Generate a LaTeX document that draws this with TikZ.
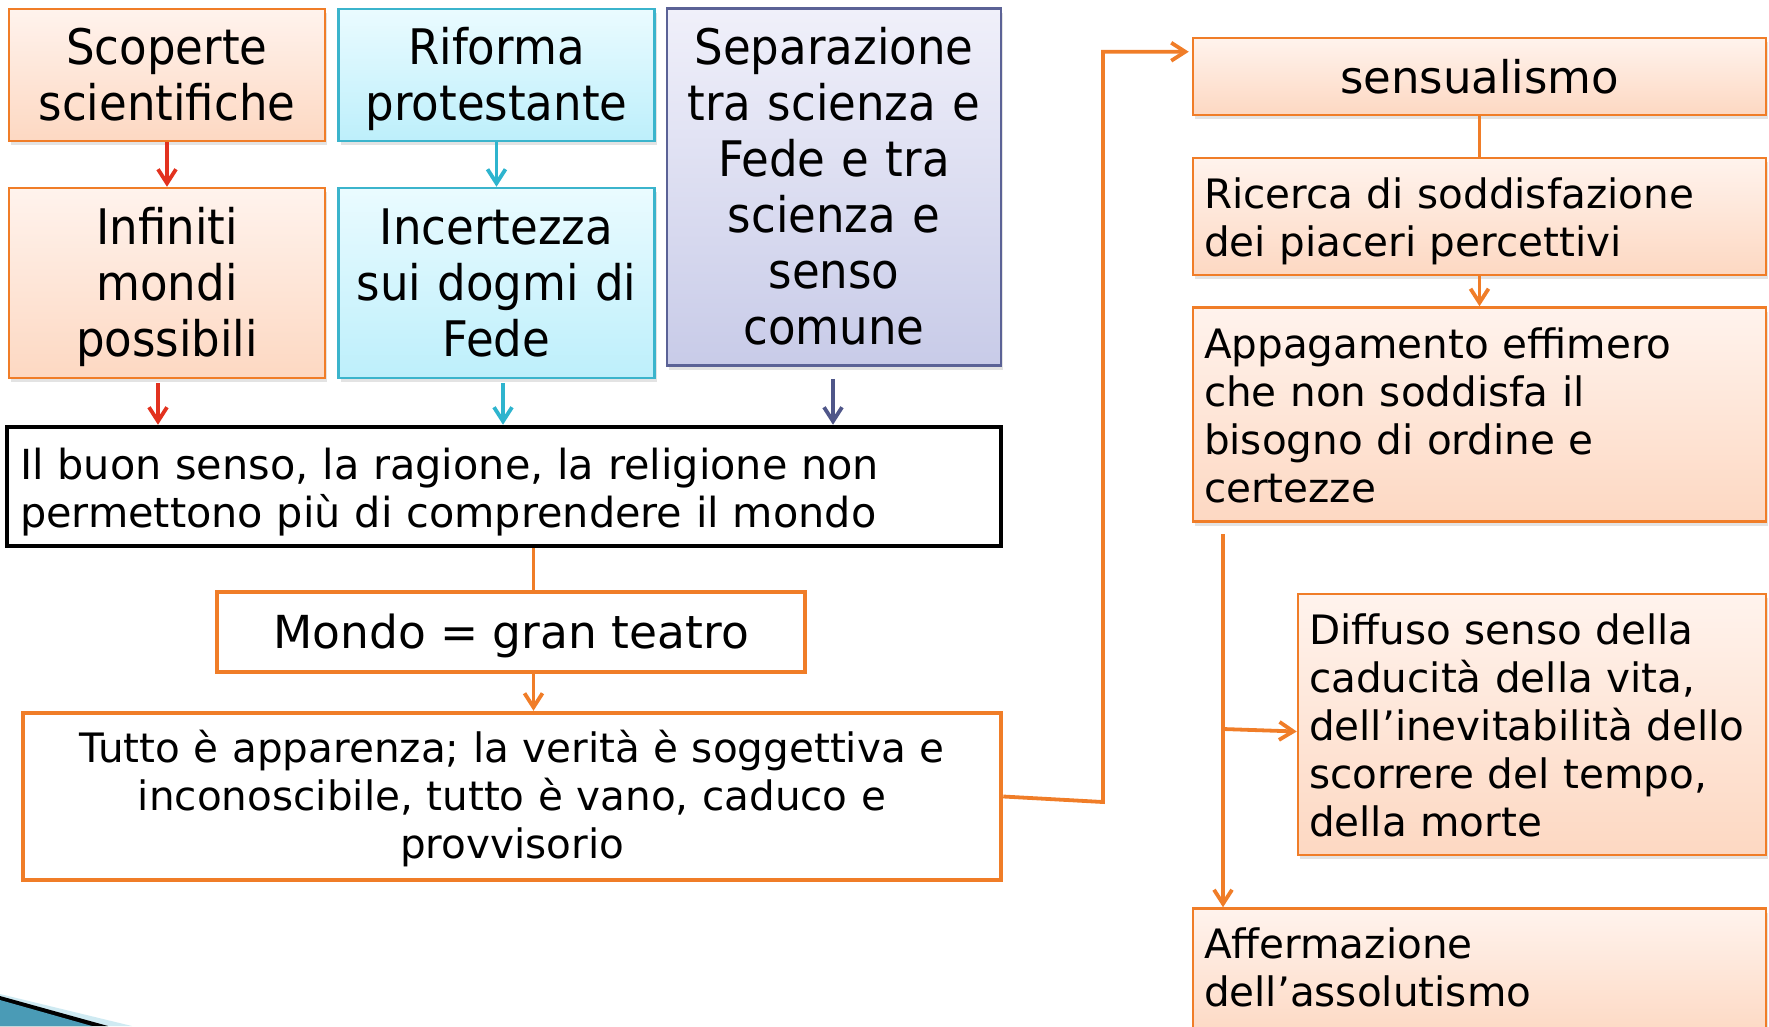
\documentclass[tikz,border=0pt]{standalone}
\usepackage{fontspec}
\setmainfont{DejaVu Sans}
\newfontfamily\condfont{DejaVu Sans}[FakeStretch=0.92]
\usetikzlibrary{arrows.meta,shadows,calc}
\definecolor{orB}{HTML}{F07D28}
\definecolor{orT}{HTML}{FFF3ED}
\definecolor{orBot}{HTML}{FDD8C2}
\definecolor{cyB}{HTML}{3BB4CC}
\definecolor{cyT}{HTML}{EAFBFF}
\definecolor{cyBot}{HTML}{BDEFFB}
\definecolor{puB}{HTML}{5B6296}
\definecolor{puT}{HTML}{F0F0FA}
\definecolor{puBot}{HTML}{C8CBE8}
\definecolor{redA}{HTML}{E2321F}
\definecolor{cyA}{HTML}{2EB4CE}
\definecolor{puA}{HTML}{4F5689}
\definecolor{decoBlue}{HTML}{4A9BB6}
\definecolor{decoLight}{HTML}{CFEAF2}
% struts fixing baseline positions inside the boxes
\newcommand\hiS[1]{\rule{0pt}{#1}}
\newcommand\loS[1]{\rule[-#1]{0pt}{#1}}
\begin{document}
\begin{tikzpicture}[x=1pt,y=-1pt,
  shbox/.style={draw, rectangle, line width=2.5pt,
    drop shadow={opacity=0.22, shadow xshift=2pt, shadow yshift=-4pt}},
  orangebox/.style={draw=orB, top color=orT, bottom color=orBot},
  cyanbox/.style={draw=cyB, top color=cyT, bottom color=cyBot},
  purplebox/.style={draw=puB, top color=puT, bottom color=puBot},
  topbox/.style={shbox, font=\condfont\fontsize{49}{56}\selectfont, align=center,
    inner xsep=6pt, inner ysep=0pt},
  rbox/.style={shbox, orangebox, font=\fontsize{40.5}{48}\selectfont, align=left,
    inner xsep=11pt, inner ysep=0pt},
  plainbox/.style={draw, rectangle, line width=4.5pt, fill=white, inner ysep=0pt},
  conn/.style={line width=3.8pt},
  arr/.style={line width=3.8pt, -{Straight Barb[length=14pt,width=18pt]}}
]
\useasboundingbox (0,0) rectangle (1769,1026);

% bottom-left decoration
\fill[decoLight] (0,994) -- (132,1026) -- (0,1026) -- cycle;
\fill[black] (0,996) -- (108,1026) -- (0,1026) -- cycle;
\fill[decoBlue] (0,1000) -- (92,1026) -- (0,1026) -- cycle;

% left column boxes
\node[topbox, orangebox, minimum width=316, minimum height=132, text width=300] (A) at (167,75)
  {\hiS{47pt}Scoperte\\scientifiche\loS{13pt}};
\node[topbox, cyanbox, minimum width=316, minimum height=132, text width=300] (B) at (496.5,75)
  {\hiS{47pt}Riforma\\protestante\loS{13pt}};
\node[topbox, purplebox, minimum width=334, minimum height=357, text width=320] (C) at (834,187)
  {\hiS{47pt}Separazione\\tra scienza e\\Fede e tra\\scienza e\\senso\\comune\loS{13pt}};
\node[topbox, orangebox, minimum width=316, minimum height=190, text width=300] (D) at (167,283)
  {\hiS{47pt}Infiniti\\mondi\\possibili\loS{13pt}};
\node[topbox, cyanbox, minimum width=316, minimum height=190, text width=300] (E) at (496.5,283)
  {\hiS{47pt}Incertezza\\sui dogmi di\\Fede\loS{13pt}};

\node[plainbox, draw=black, minimum width=994, minimum height=119, text width=968,
  align=left, inner xsep=12pt, font=\fontsize{41.4}{48}\selectfont] (F) at (504,486.5)
  {\hiS{45pt}Il buon senso, la ragione, la religione non\\permettono più di comprendere il mondo\loS{12pt}};
\node[plainbox, draw=orB, minimum width=588, minimum height=80, align=center,
  font=\fontsize{45.5}{52}\selectfont] (G) at (511,632)
  {\rule[-11pt]{0pt}{54pt}Mondo = gran teatro};
\node[plainbox, draw=orB, minimum width=978, minimum height=167, text width=950,
  align=center, font=\fontsize{40.5}{48}\selectfont] (H) at (512,796.5)
  {\hiS{40pt}Tutto è apparenza; la verità è soggettiva e\\inconoscibile, tutto è vano, caduco e\\provvisorio\loS{12pt}};

% right column boxes
\node[shbox, orangebox, minimum width=573, minimum height=77, align=center, inner ysep=0pt,
  font=\fontsize{45}{52}\selectfont] (I) at (1479.5,76.5) {\rule[-7pt]{0pt}{47pt}sensualismo};
\node[rbox, minimum width=573, minimum height=117, text width=551] (J) at (1479.5,216.5)
  {\hiS{42pt}Ricerca di soddisfazione\\dei piaceri percettivi\loS{11pt}};
\node[rbox, minimum width=573, minimum height=214, text width=551] (K) at (1479.5,414.5)
  {\hiS{42pt}Appagamento effimero\\che non soddisfa il\\bisogno di ordine e\\certezze\loS{11pt}};
\node[rbox, minimum width=468, minimum height=261, text width=446] (L) at (1532,724.5)
  {\hiS{42pt}Diffuso senso della\\caducità della vita,\\dell’inevitabilità dello\\scorrere del tempo,\\della morte\loS{11pt}};
\node[rbox, minimum width=573, minimum height=132, text width=551] (M) at (1479.5,974.5)
  {\hiS{42pt}Affermazione\\dell’assolutismo\loS{27pt}};

% connectors, left
\draw[arr, redA] (A.south) -- (D.north);
\draw[arr, cyA] (B.south) -- (E.north);
\draw[arr, redA] ([xshift=-9pt,yshift=-4pt]D.south) -- ([xshift=-9pt]D.south |- F.north);
\draw[arr, cyA] ([xshift=6.5pt,yshift=-4pt]E.south) -- ([xshift=6.5pt]E.south |- F.north);
\draw[arr, puA] ([xshift=-1pt,yshift=-12pt]C.south) -- ([xshift=-1pt]C.south |- F.north);

\coordinate (fg) at (533.5,0);
\draw[conn, orB] (fg |- F.south) -- (fg |- G.north);
\draw[arr, orB] (fg |- G.south) -- (fg |- H.north);

% connector H -> sensualismo
\coordinate (hk) at (1103,802);
\draw[arr, orB, line join=miter] (H.east) -- (hk) |- ([xshift=-3pt,yshift=-15pt]I.north west);

% connectors, right
\draw[conn, orB] (I.south) -- (J.north);
\draw[arr, orB] (J.south) -- (K.north);
\coordinate (kx) at (1223,534);
\draw[arr, orB] (kx) -- (kx |- M.north);
\coordinate (br) at (1223,729);
\draw[arr, orB] (br) -- ([yshift=-7pt]L.west);
\end{tikzpicture}
\end{document}
